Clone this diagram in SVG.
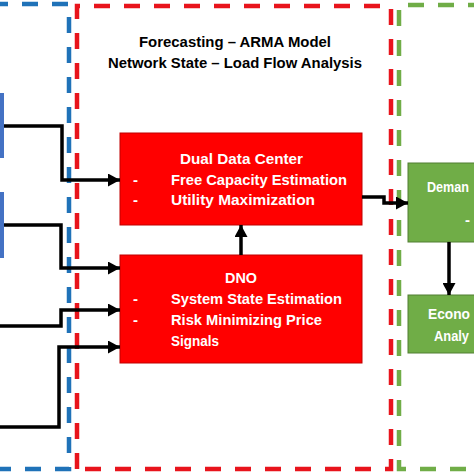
<svg xmlns="http://www.w3.org/2000/svg" width="474" height="474" viewBox="0 0 474 474">
<defs>
<style>
.zone{fill:none;stroke-width:4.5;stroke-dasharray:16 14}
.t{font-family:"Liberation Sans",Arial,sans-serif;font-weight:bold;font-size:15px}
.w{fill:#ffffff}
.k{fill:#000000}
.redbox{fill:#ff0000;stroke:#c00000;stroke-width:1}
.greenbox{fill:#70ad47;stroke:#507e32;stroke-width:1}
.conn{fill:none;stroke:#000;stroke-width:3.5}
</style>
<marker id="ah" markerUnits="userSpaceOnUse" markerWidth="13" markerHeight="13" refX="12" refY="6.5" orient="auto">
<path d="M0,0 L12,6.5 L0,13 z" fill="#000"/>
</marker>
</defs>
<rect width="474" height="474" fill="#ffffff"/>

<g id="zones">
<path class="zone" stroke="#1f72b8" d="M-8,4 H69 V469 H-8"/>
<path class="zone" stroke="#e8141c" d="M77,469 V6 H391 V469 H77"/>
<path class="zone" stroke="#70ad47" d="M484,5 H399 V469 H484"/>
</g>

<g id="title">
<text class="t k" x="235" y="47" text-anchor="middle" textLength="192" lengthAdjust="spacingAndGlyphs">Forecasting – ARMA Model</text>
<text class="t k" x="235" y="68" text-anchor="middle" textLength="254" lengthAdjust="spacingAndGlyphs">Network State – Load Flow Analysis</text>
</g>

<g id="input1"><rect x="-10" y="93" width="14" height="65" fill="#4472c4"/></g>
<g id="input2"><rect x="-10" y="192" width="14" height="66" fill="#4472c4"/></g>

<g id="ddc">
<rect class="redbox" x="120" y="133" width="242" height="92"/>
<text class="t w" x="180" y="164" textLength="123" lengthAdjust="spacingAndGlyphs">Dual Data Center</text>
<text class="t w" x="133" y="185">-</text>
<text class="t w" x="171" y="185" textLength="176" lengthAdjust="spacingAndGlyphs">Free Capacity Estimation</text>
<text class="t w" x="133" y="205">-</text>
<text class="t w" x="171" y="205" textLength="144" lengthAdjust="spacingAndGlyphs">Utility Maximization</text>
</g>

<g id="dno">
<rect class="redbox" x="120" y="255" width="242" height="108"/>
<text class="t w" x="225" y="283" textLength="32" lengthAdjust="spacingAndGlyphs">DNO</text>
<text class="t w" x="133" y="304">-</text>
<text class="t w" x="171" y="304" textLength="171" lengthAdjust="spacingAndGlyphs">System State Estimation</text>
<text class="t w" x="133" y="325">-</text>
<text class="t w" x="171" y="325" textLength="151" lengthAdjust="spacingAndGlyphs">Risk Minimizing Price</text>
<text class="t w" x="171" y="346" textLength="48" lengthAdjust="spacingAndGlyphs">Signals</text>
</g>

<g id="demand">
<rect class="greenbox" x="408" y="163" width="80" height="79"/>
<text class="t w" x="427" y="192" textLength="42" lengthAdjust="spacingAndGlyphs">Deman</text>
<text class="t w" x="465" y="225">-</text>
</g>

<g id="econo">
<rect class="greenbox" x="408" y="295" width="80" height="58"/>
<text class="t w" x="428" y="319" textLength="42" lengthAdjust="spacingAndGlyphs">Econo</text>
<text class="t w" x="434" y="341" textLength="35" lengthAdjust="spacingAndGlyphs">Analy</text>
</g>

<g id="connectors">
<path class="conn" marker-end="url(#ah)" d="M4,126 H62 V180 H120"/>
<path class="conn" marker-end="url(#ah)" d="M4,225 H61 V268 H120"/>
<path class="conn" marker-end="url(#ah)" d="M0,326 H61 V310 H120"/>
<path class="conn" marker-end="url(#ah)" d="M0,427 H59 V347 H120"/>
<path class="conn" marker-end="url(#ah)" d="M241,255 V225"/>
<path class="conn" marker-end="url(#ah)" d="M362,197 H384 V203 H408"/>
<path class="conn" marker-end="url(#ah)" d="M449,242 V295"/>
</g>
</svg>
